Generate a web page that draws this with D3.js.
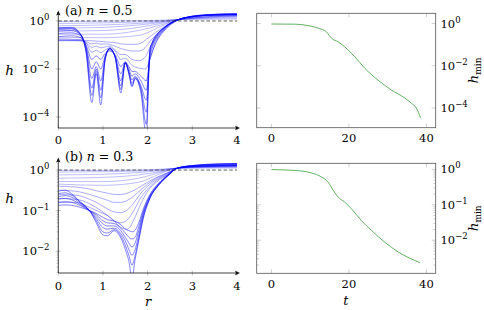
<!DOCTYPE html>
<html>
<head>
<meta charset="utf-8">
<script src="https://cdn.jsdelivr.net/npm/d3@7"></script>
<style>
  body { margin: 0; background: #fff; }
  svg text { font-family: "DejaVu Serif", "Liberation Serif", serif; fill: #000; }
</style>
</head>
<body>
<svg id="chart" width="484" height="310"></svg>
<script>
// ---- panel (a), n = 0.5 : film profiles h(r) ----
const rEarlyA = [0, 1, 1.8, 2.3, 2.7, 3.2, 4];
const hEarlyA = [
  [0.95, 0.98, 1.02, 1.07, 1.15, 1.17, 1.2],
  [0.79, 0.83, 0.91, 1.0, 1.15, 1.26, 1.32],
  [0.63, 0.68, 0.79, 0.93, 1.15, 1.32, 1.45],
  [0.5, 0.54, 0.68, 0.87, 1.15, 1.38, 1.55],
  [0.38, 0.4, 0.54, 0.79, 1.15, 1.41, 1.62],
  [0.28, 0.28, 0.4, 0.69, 1.15, 1.45, 1.66],
  [0.21, 0.2, 0.25, 0.6, 1.15, 1.48, 1.7]
];
const rMidA = [0, 0.5, 0.62, 0.75, 0.85, 0.95, 1.05, 1.15, 1.27, 1.4, 1.5, 1.65, 1.8, 1.95, 2.05, 2.15, 2.35, 2.7, 3.0, 3.5, 4];
const hMidA = [
  [0.16, 0.16, 0.155, 0.15, 0.145, 0.14, 0.135, 0.13, 0.126, 0.11, 0.107, 0.105, 0.11, 0.16, 0.22, 0.3, 0.54, 1.15, 1.48, 1.7, 1.78],
  [0.15, 0.15, 0.14, 0.11, 0.12, 0.107, 0.11, 0.105, 0.089, 0.071, 0.063, 0.056, 0.056, 0.079, 0.14, 0.22, 0.5, 1.15, 1.5, 1.74, 1.8],
  [0.16, 0.15, 0.126, 0.079, 0.089, 0.076, 0.083, 0.089, 0.063, 0.04, 0.04, 0.025, 0.022, 0.032, 0.079, 0.16, 0.45, 1.15, 1.5, 1.78, 1.86],
  [0.18, 0.166, 0.126, 0.05, 0.06, 0.048, 0.063, 0.076, 0.056, 0.025, 0.028, 0.014, 0.011, 0.01, 0.025, 0.089, 0.4, 1.15, 1.5, 1.78, 1.86]
];
const rLateA = [0, 0.3, 0.5, 0.62, 0.75, 0.85, 0.95, 1.05, 1.15, 1.27, 1.4, 1.5, 1.58, 1.65, 1.72, 1.85, 1.97, 2.05, 2.1, 2.2, 2.35, 2.5, 2.7, 3.0, 3.5, 4.0];
const hLateA = [
  [0.22, 0.24, 0.2, 0.1, 0.025, 0.035, 0.025, 0.045, 0.056, 0.04, 0.0126, 0.02, 0.0126, 0.0079, 0.0079, 0.005, 0.0032, 0.025, 0.05, 0.14, 0.35, 0.66, 1.12, 1.48, 1.74, 1.8],
  [0.3, 0.32, 0.24, 0.089, 0.01, 0.02, 0.01, 0.035, 0.063, 0.035, 0.0063, 0.019, 0.01, 0.005, 0.0063, 0.0032, 0.0013, 0.032, 0.071, 0.18, 0.4, 0.71, 1.15, 1.5, 1.78, 1.86],
  [0.38, 0.4, 0.26, 0.079, 0.004, 0.0126, 0.0032, 0.032, 0.068, 0.034, 0.0032, 0.018, 0.0079, 0.0035, 0.005, 0.002, 5e-4, 0.04, 0.089, 0.21, 0.45, 0.76, 1.15, 1.55, 1.8, 1.9],
  [0.44, 0.46, 0.27, 0.063, 0.0016, 0.01, 0.0013, 0.028, 0.071, 0.033, 0.002, 0.018, 0.0071, 0.0025, 0.0045, 0.0016, 1.6e-4, 0.05, 0.107, 0.24, 0.48, 0.79, 1.15, 1.55, 1.86, 1.95],
  [0.49, 0.5, 0.275, 0.056, 7.9e-4, 0.0079, 6.3e-4, 0.026, 0.072, 0.032, 0.0014, 0.018, 0.0063, 0.002, 0.004, 0.0013, 5e-5, 0.056, 0.12, 0.26, 0.49, 0.79, 1.15, 1.58, 1.86, 2.0],
  [0.52, 0.54, 0.28, 0.05, 4e-4, 0.0063, 3.2e-4, 0.025, 0.074, 0.032, 0.001, 0.018, 0.0063, 0.0018, 0.004, 0.001, 1.6e-5, 0.063, 0.126, 0.27, 0.5, 0.79, 1.15, 1.58, 1.9, 2.0]
];

// ---- panel (b), n = 0.3 ----
const rEarlyB = [0, 1, 1.8, 2.3, 2.67, 3.2, 4];
const hEarlyB = [
  [0.98, 0.98, 1.0, 1.05, 1.1, 1.12, 1.12],
  [0.89, 0.91, 0.95, 1.02, 1.12, 1.15, 1.17],
  [0.76, 0.79, 0.87, 0.98, 1.12, 1.17, 1.2],
  [0.63, 0.66, 0.76, 0.93, 1.12, 1.2, 1.23],
  [0.52, 0.52, 0.63, 0.89, 1.12, 1.2, 1.26],
  [0.45, 0.42, 0.5, 0.83, 1.12, 1.23, 1.26]
];
const rMidB = [0, 0.4, 0.7, 0.9, 1.1, 1.25, 1.4, 1.55, 1.7, 1.85, 2.0, 2.2, 2.45, 2.67, 3.0, 3.5, 4];
const hMidB = [
  [0.4, 0.38, 0.34, 0.3, 0.27, 0.25, 0.25, 0.27, 0.32, 0.4, 0.5, 0.66, 0.87, 1.12, 1.2, 1.23, 1.26],
  [0.32, 0.3, 0.25, 0.214, 0.18, 0.16, 0.16, 0.18, 0.234, 0.33, 0.45, 0.63, 0.85, 1.12, 1.2, 1.26, 1.29],
  [0.25, 0.24, 0.19, 0.15, 0.11, 0.093, 0.089, 0.105, 0.16, 0.27, 0.4, 0.59, 0.83, 1.12, 1.23, 1.26, 1.29],
  [0.2, 0.19, 0.148, 0.11, 0.076, 0.056, 0.05, 0.06, 0.105, 0.21, 0.34, 0.55, 0.79, 1.12, 1.23, 1.29, 1.32],
  [0.16, 0.16, 0.12, 0.095, 0.076, 0.056, 0.038, 0.035, 0.063, 0.15, 0.3, 0.51, 0.78, 1.12, 1.23, 1.29, 1.32]
];
const rLateB = [0, 0.15, 0.3, 0.5, 0.7, 0.85, 1.0, 1.1, 1.25, 1.4, 1.5, 1.58, 1.65, 1.72, 1.8, 1.9, 2.05, 2.25, 2.45, 2.67, 3.0, 3.5, 4.0];
const hLateB = [
  [0.135, 0.138, 0.135, 0.12, 0.1, 0.085, 0.068, 0.06, 0.055, 0.045, 0.035, 0.032, 0.03, 0.033, 0.05, 0.107, 0.25, 0.48, 0.76, 1.12, 1.23, 1.29, 1.32],
  [0.16, 0.166, 0.16, 0.132, 0.1, 0.079, 0.056, 0.05, 0.048, 0.037, 0.028, 0.022, 0.02, 0.022, 0.04, 0.095, 0.234, 0.46, 0.74, 1.12, 1.26, 1.32, 1.35],
  [0.19, 0.2, 0.186, 0.14, 0.1, 0.071, 0.047, 0.042, 0.042, 0.032, 0.022, 0.016, 0.0126, 0.016, 0.032, 0.085, 0.22, 0.45, 0.74, 1.12, 1.26, 1.35, 1.38],
  [0.22, 0.234, 0.214, 0.15, 0.1, 0.063, 0.038, 0.035, 0.037, 0.027, 0.018, 0.011, 0.0079, 0.011, 0.025, 0.076, 0.21, 0.44, 0.72, 1.12, 1.29, 1.38, 1.41],
  [0.26, 0.275, 0.24, 0.16, 0.1, 0.056, 0.03, 0.028, 0.034, 0.024, 0.014, 0.0079, 0.0045, 0.0079, 0.02, 0.066, 0.2, 0.43, 0.72, 1.12, 1.29, 1.41, 1.45],
  [0.3, 0.32, 0.26, 0.16, 0.1, 0.05, 0.025, 0.024, 0.032, 0.021, 0.011, 0.0056, 0.0022, 0.0063, 0.018, 0.063, 0.2, 0.43, 0.72, 1.12, 1.29, 1.41, 1.45]
];

// ---- minimum thickness over time ----
const tMinA = [0, 6, 10.3, 12.4, 14.2, 15.6, 17.2, 18.9, 21.5, 24.1, 27.5, 30.9, 34.4, 36.1, 37.4, 38.5];
const hMinA = [0.95, 0.93, 0.74, 0.58, 0.4, 0.195, 0.137, 0.079, 0.027, 7.6e-3, 2.1e-3, 7.2e-4, 3.0e-4, 1.7e-4, 1.0e-4, 3.4e-5];
const tMinB = [0, 6, 10.3, 12.9, 14.6, 15.9, 17.2, 18.9, 20.6, 23.2, 25.8, 29.2, 32.7, 38.4];
const hMinB = [0.98, 0.93, 0.79, 0.61, 0.44, 0.26, 0.166, 0.12, 0.078, 0.036, 0.019, 8.9e-3, 4.7e-3, 2.3e-3];

const rTicks = [0, 1, 2, 3, 4];
const tTicks = [0, 20, 40];

const FONT = '"DejaVu Serif", "Liberation Serif", serif';
const svg = d3.select('#chart').style('font-family', FONT);
const zip = (xs, ys) => xs.map((v, i) => [v, ys[i]]);
const MINUS = '\u2212';

function txt(g) {
  return g.append('text').attr('font-family', FONT);
}

// "10^k" label with a raised exponent
function powLabel(g, x, y, k, anchor) {
  const t = txt(g).attr('x', x).attr('y', y).attr('text-anchor', anchor)
    .style('font-size', '11.5px').text('10');
  t.append('tspan').attr('dy', -5).style('font-size', '8.5px')
    .text(k < 0 ? MINUS + (-k) : String(k));
}

function arrowHead(g, x, y, dir) {
  // small filled stealth arrow, dir 'up' or 'right'
  const p = dir === 'up'
    ? `M${x},${y} L${x - 2.2},${y + 5} L${x},${y + 4} L${x + 2.2},${y + 5} Z`
    : `M${x},${y} L${x - 5},${y - 2.2} L${x - 4},${y} L${x - 5},${y + 2.2} Z`;
  g.append('path').attr('d', p).attr('fill', '#111');
}

function profilePanel(o) {
  const g = svg.append('g');
  const x = d3.scaleLinear().domain([0, 4]).range([58.3, 237]);
  const y = d3.scaleLog().domain(o.yDomain).range([o.bottom, o.top]);

  svg.append('clipPath').attr('id', 'clip' + o.key)
    .append('rect').attr('x', 58.3).attr('y', o.top)
    .attr('width', 237 - 58.3 + 1).attr('height', o.bottom - o.top);

  const line = d3.line().x(d => x(d[0])).y(d => y(d[1])).curve(d3.curveMonotoneX);
  const plot = g.append('g').attr('clip-path', `url(#clip${o.key})`);

  o.groups.forEach(gr => {
    gr.h.forEach(hs => {
      plot.append('path').datum(zip(gr.r, hs)).attr('d', line)
        .attr('fill', 'none').attr('stroke', '#0000ff')
        .attr('stroke-opacity', gr.op).attr('stroke-width', 0.65);
    });
  });

  // reference level h = 1
  plot.append('line').attr('x1', x(0)).attr('x2', x(4))
    .attr('y1', y(1)).attr('y2', y(1))
    .attr('stroke', '#333').attr('stroke-width', 0.8).attr('stroke-dasharray', '3.5,2.2');

  // ticks
  const ty = y.ticks().filter(v => v >= o.yDomain[0] && v <= o.yDomain[1]);
  ty.forEach(v => {
    const major = o.majors.includes(v);
    if (!major && !o.minor) return;
    g.append('line').attr('x1', x(0) - (major ? 2.5 : 1.6)).attr('x2', x(0) + (major ? 2.5 : 0))
      .attr('y1', y(v)).attr('y2', y(v)).attr('stroke', '#999').attr('stroke-width', 0.6);
  });
  rTicks.forEach(v => {
    g.append('line').attr('x1', x(v)).attr('x2', x(v))
      .attr('y1', o.bottom - 2.5).attr('y2', o.bottom + 2.5)
      .attr('stroke', '#999').attr('stroke-width', 0.6);
  });

  // axis lines with arrows
  g.append('line').attr('x1', x(0)).attr('x2', 238).attr('y1', o.bottom).attr('y2', o.bottom)
    .attr('stroke', '#111').attr('stroke-width', 0.8);
  arrowHead(g, 240, o.bottom, 'right');
  g.append('line').attr('x1', x(0)).attr('x2', x(0)).attr('y1', o.bottom).attr('y2', o.top - 1)
    .attr('stroke', '#111').attr('stroke-width', 0.8);
  arrowHead(g, x(0), o.top - 2.5, 'up');

  // labels
  o.majors.forEach(v => powLabel(g, 49.5, y(v) + 4, Math.round(Math.log10(v)), 'end'));
  rTicks.forEach(v => {
    txt(g).attr('x', x(v)).attr('y', o.bottom + o.tickDy).attr('text-anchor', 'middle')
      .style('font-size', '11.5px').text(v);
  });
  txt(g).attr('x', 9.5).attr('y', o.hY).attr('text-anchor', 'middle')
    .style('font-size', '13.5px').style('font-style', 'italic').text('h');

  const title = txt(g).attr('x', 65).attr('y', o.titleY).style('font-size', '12.5px');
  title.append('tspan').text(`(${o.key}) `);
  title.append('tspan').style('font-style', 'italic').text('n');
  title.append('tspan').text(` = ${o.n}`);

  if (o.xLabel) {
    txt(g).attr('x', 148).attr('y', o.bottom + 33).attr('text-anchor', 'middle')
      .style('font-size', '13px').style('font-style', 'italic').text('r');
  }
}

function minPanel(o) {
  const g = svg.append('g');
  const x0 = 256.7, x1 = 435.7;
  const x = d3.scaleLinear().domain([-3.8, 42.4]).range([x0, x1]);
  const y = d3.scaleLog().domain(o.yDomain).range([o.bottom, o.top]);

  const line = d3.line().x(d => x(d[0])).y(d => y(d[1])).curve(d3.curveMonotoneX);
  g.append('path').datum(zip(o.t, o.h)).attr('d', line)
    .attr('fill', 'none').attr('stroke', '#3a9e3a').attr('stroke-width', 0.8);

  // ticks on all sides
  const tickCol = '#b0b0b0';
  tTicks.forEach(v => {
    g.append('line').attr('x1', x(v)).attr('x2', x(v)).attr('y1', o.bottom).attr('y2', o.bottom - 4)
      .attr('stroke', tickCol).attr('stroke-width', 0.6);
    g.append('line').attr('x1', x(v)).attr('x2', x(v)).attr('y1', o.top).attr('y2', o.top + 4)
      .attr('stroke', tickCol).attr('stroke-width', 0.6);
  });
  const ty = y.ticks().filter(v => v >= o.yDomain[0] && v <= o.yDomain[1]);
  ty.forEach(v => {
    const major = o.majors.includes(v);
    if (!major && !o.minor) return;
    const len = major ? 4 : 2.5;
    g.append('line').attr('x1', x0).attr('x2', x0 + len).attr('y1', y(v)).attr('y2', y(v))
      .attr('stroke', tickCol).attr('stroke-width', 0.6);
    g.append('line').attr('x1', x1).attr('x2', x1 - len).attr('y1', y(v)).attr('y2', y(v))
      .attr('stroke', tickCol).attr('stroke-width', 0.6);
  });

  g.append('rect').attr('x', x0).attr('y', o.top).attr('width', x1 - x0).attr('height', o.bottom - o.top)
    .attr('fill', 'none').attr('stroke', '#555').attr('stroke-width', 0.8);

  o.majors.forEach(v => powLabel(g, 440.5, y(v) + 4, Math.round(Math.log10(v)), 'start'));
  tTicks.forEach(v => {
    txt(g).attr('x', x(v)).attr('y', o.bottom + 14.5).attr('text-anchor', 'middle')
      .style('font-size', '11.5px').text(v);
  });

  const cy = (o.top + o.bottom) / 2;
  const lab = txt(g).attr('transform', `translate(478,${cy}) rotate(-90)`)
    .attr('text-anchor', 'middle').style('font-size', '13.5px');
  lab.append('tspan').style('font-style', 'italic').text('h');
  lab.append('tspan').attr('dy', 3).style('font-size', '9px').text('min');

  if (o.xLabel) {
    txt(g).attr('x', x(20) - 3).attr('y', o.bottom + 32).attr('text-anchor', 'middle')
      .style('font-size', '13px').style('font-style', 'italic').text('t');
  }
}

profilePanel({
  key: 'a', n: '0.5', top: 13, bottom: 128, yDomain: [3.5e-5, 2.14],
  majors: [1, 1e-2, 1e-4], minor: false, tickDy: 16, hY: 75, titleY: 14.5,
  groups: [
    { r: rEarlyA, h: hEarlyA, op: 0.4 },
    { r: rMidA, h: hMidA, op: 0.5 },
    { r: rLateA, h: hLateA, op: 0.75 }
  ]
});
profilePanel({
  key: 'b', n: '0.3', top: 160, bottom: 273, yDomain: [2.9e-3, 1.77],
  majors: [1, 1e-1, 1e-2], minor: true, tickDy: 17, hY: 203, titleY: 161, xLabel: true,
  groups: [
    { r: rEarlyB, h: hEarlyB, op: 0.4 },
    { r: rMidB, h: hMidB, op: 0.5 },
    { r: rLateB, h: hLateB, op: 0.75 }
  ]
});
minPanel({
  t: tMinA, h: hMinA, top: 13.3, bottom: 127.7, yDomain: [1.17e-5, 3.05],
  majors: [1, 1e-2, 1e-4], minor: false
});
minPanel({
  t: tMinB, h: hMinB, top: 163.3, bottom: 273.3, yDomain: [1.17e-3, 1.476],
  majors: [1, 1e-1, 1e-2], minor: true, xLabel: true
});
</script>
</body>
</html>
